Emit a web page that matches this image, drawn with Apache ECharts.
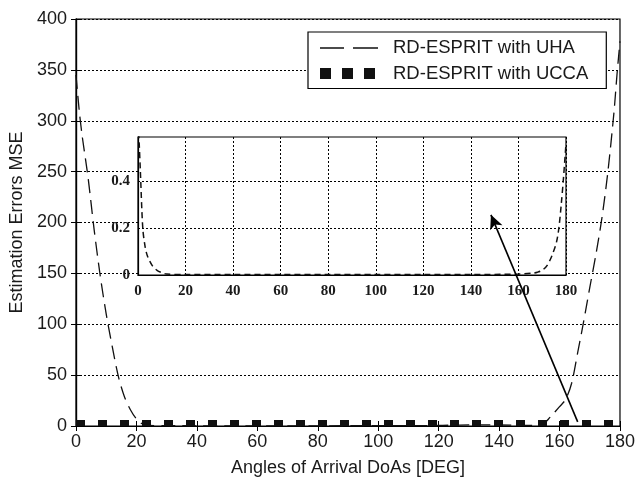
<!DOCTYPE html>
<html>
<head>
<meta charset="utf-8">
<script src="https://cdn.jsdelivr.net/npm/echarts@6/dist/echarts.min.js"></script>
<style>html,body{margin:0;padding:0;background:#fff}#c{width:638px;height:482px}</style>
</head>
<body>
<div id="c"></div>
<script>
// ---- data ----
const xTicks = [0, 20, 40, 60, 80, 100, 120, 140, 160, 180];
const yTicks = [0, 50, 100, 150, 200, 250, 300, 350, 400];
const insetYTicks = [0, 0.2, 0.4];

// Main: RD-ESPRIT with UHA (angle, MSE)
const uhaAngles = [0, 1, 2, 4, 6, 8, 10, 12, 14, 16, 18, 20, 22, 24, 30, 40, 60, 80, 100, 120, 130, 140, 150, 154, 157, 160, 162, 164, 166, 168, 170, 172, 174, 176, 178, 179, 180];
const uhaMSE    = [345, 312, 286, 244, 193, 148, 110, 78, 49, 29, 16, 7, 2, 0.5, 0.3, 0.2, 0.2, 0.2, 0.3, 0.5, 1.2, 1.0, 0.5, 1.0, 9, 19, 26, 42, 72, 103, 136, 168, 204, 250, 308, 345, 378];

// Main: RD-ESPRIT with UCCA (as drawn on the main axes)
const uccaAngles = [0, 20, 40, 60, 80, 100, 120, 140, 160, 180];
const uccaMSE    = [3, 3, 3, 3, 3, 3, 3, 3, 3, 3];

// Inset: RD-ESPRIT with UCCA zoomed
const insetAngles = [0, 0.5, 1, 2, 3, 4, 6, 8, 10, 12, 20, 40, 60, 80, 100, 120, 140, 160, 166, 168, 170, 172, 174, 176, 177, 178, 179, 180];
const insetMSE    = [0.65, 0.56, 0.44, 0.2, 0.12, 0.08, 0.04, 0.02, 0.01, 0.004, 0.002, 0.002, 0.002, 0.002, 0.002, 0.002, 0.002, 0.004, 0.008, 0.012, 0.02, 0.04, 0.08, 0.14, 0.2, 0.3, 0.42, 0.56];
const insetYMax = 0.587;

// Arrow annotation (data coordinates of main axes)
const arrowFrom = [166, 4];
const arrowTo = [137.3, 207.5];

const seriesNames = ['RD-ESPRIT with UHA', 'RD-ESPRIT with UCCA'];
const xTitle = 'Angles of Arrival DoAs [DEG]';
const yTitle = 'Estimation Errors MSE';

const zip = (a, b) => a.map((v, i) => [v, b[i]]);
const txt = '#1a1a1a';
const FONT = '"Liberation Sans", Arial, sans-serif';
const SERIF = '"Liberation Serif", "Times New Roman", serif';

// legend icon shapes (58 x 12 box; tiny corner anchors fix the bounding box)
const anchors = 'M0,0L0.01,0L0,0.01Z M58,12L57.99,12L58,11.99Z ';
const dashIcon = 'path://' + anchors + 'M0,5.2H24V6.8H0Z M33,5.2H58V6.8H33Z';
const squareIcon = 'path://' + anchors + 'M0,0.5H11V11.5H0Z M22,0.5H33V11.5H22Z M44,0.5H55V11.5H44Z';

const chart = echarts.init(document.getElementById('c'), null, {renderer: 'canvas'});
chart.setOption({
  animation: false,
  backgroundColor: '#fff',
  textStyle: {fontFamily: FONT},
  grid: [
    {left: 76, top: 19, width: 544, height: 408, show: true, borderColor: '#000', borderWidth: 1.2, backgroundColor: 'transparent', z: 0},
    {left: 138, top: 137, width: 428, height: 138, show: true, borderColor: '#000', borderWidth: 1.2, backgroundColor: '#fff', z: 10}
  ],
  legend: {
    left: 308, top: 32,
    orient: 'vertical',
    data: [{name: seriesNames[0], icon: dashIcon}, {name: seriesNames[1], icon: squareIcon}],
    symbolKeepAspect: false,
    borderColor: '#000', borderWidth: 1.2,
    backgroundColor: '#fff',
    padding: [6, 18, 5, 12],
    itemWidth: 58, itemHeight: 12, itemGap: 5.5,
    itemStyle: {color: '#111', borderWidth: 0},
    textStyle: {fontSize: 18.5, color: txt, fontFamily: FONT, lineHeight: 20, padding: [0, 0, 0, 10]},
    z: 20
  },
  xAxis: [
    {type: 'value', gridIndex: 0, min: 0, max: 180, interval: 20, position: 'bottom',
     name: xTitle, nameLocation: 'middle', nameGap: 33,
     nameTextStyle: {fontSize: 18, color: txt, fontFamily: FONT},
     axisLine: {show: true, lineStyle: {color: '#000', width: 1.2}},
     axisTick: {show: true, inside: true, length: 5, lineStyle: {color: '#000'}},
     axisLabel: {fontSize: 18, color: txt, margin: 7, fontFamily: FONT},
     splitLine: {show: false}},
    {type: 'value', gridIndex: 0, min: 0, max: 180, interval: 20, position: 'top',
     axisLine: {show: true, lineStyle: {color: '#000', width: 1.2}},
     axisTick: {show: true, inside: true, length: 5, lineStyle: {color: '#000'}},
     axisLabel: {show: false}, splitLine: {show: false}},
    {type: 'value', gridIndex: 1, min: 0, max: 180, interval: 20, position: 'bottom', z: 11,
     axisLine: {show: true, lineStyle: {color: '#000', width: 1.2}},
     axisTick: {show: false},
     axisLabel: {fontSize: 15, fontWeight: 'bold', color: txt, margin: 9, fontFamily: SERIF},
     splitLine: {show: true, lineStyle: {color: '#000', type: [2, 2], width: 1}}}
  ],
  yAxis: [
    {type: 'value', gridIndex: 0, min: 0, max: 400, interval: 50, position: 'left',
     name: yTitle, nameLocation: 'middle', nameGap: 49, nameRotate: 90,
     nameTextStyle: {fontSize: 18, color: txt, fontFamily: FONT},
     axisLine: {show: true, lineStyle: {color: '#000', width: 1.2}},
     axisTick: {show: true, inside: true, length: 5, lineStyle: {color: '#000'}},
     axisLabel: {fontSize: 18, color: txt, margin: 9, fontFamily: FONT},
     splitLine: {show: true, lineStyle: {color: '#000', type: [2, 2], width: 1}}},
    {type: 'value', gridIndex: 0, min: 0, max: 400, interval: 50, position: 'right',
     axisLine: {show: true, lineStyle: {color: '#000', width: 1.2}},
     axisTick: {show: true, inside: true, length: 5, lineStyle: {color: '#000'}},
     axisLabel: {show: false}, splitLine: {show: false}},
    {type: 'value', gridIndex: 1, min: 0, max: insetYMax, interval: 0.2, position: 'left', z: 11,
     axisLine: {show: true, lineStyle: {color: '#000', width: 1.2}},
     axisTick: {show: false},
     axisLabel: {fontSize: 15, fontWeight: 'bold', color: txt, margin: 8, fontFamily: SERIF, showMaxLabel: false,
       formatter: v => insetYTicks.some(t => Math.abs(t - v) < 1e-9) ? String(v) : ''},
     splitLine: {show: true, showMaxLine: false, lineStyle: {color: '#000', type: [2, 2], width: 1}}}
  ],
  series: [
    {name: seriesNames[0], type: 'line', xAxisIndex: 0, yAxisIndex: 0, data: zip(uhaAngles, uhaMSE),
     showSymbol: false, symbol: 'none', smooth: 0.3, z: 3,
     lineStyle: {color: '#111', width: 1.3, type: [14, 7]}, itemStyle: {color: '#111'}},
    {name: seriesNames[1], type: 'line', xAxisIndex: 0, yAxisIndex: 0, data: zip(uccaAngles, uccaMSE),
     showSymbol: false, symbol: 'none', z: 4,
     lineStyle: {color: '#111', width: 6, type: [9, 13], cap: 'butt'}, itemStyle: {color: '#111'}},
    {name: 'inset', type: 'line', xAxisIndex: 2, yAxisIndex: 2, data: zip(insetAngles, insetMSE),
     showSymbol: false, symbol: 'none', smooth: 0.3, z: 12, clip: true,
     lineStyle: {color: '#111', width: 1.5, type: [6, 4]}},
    {name: 'arrow', type: 'line', xAxisIndex: 0, yAxisIndex: 0, data: [], z: 15,
     markLine: {silent: true, symbol: ['none', 'arrow'], symbolSize: [10, 14], label: {show: false}, z: 15,
       lineStyle: {color: '#000', width: 1.6, type: 'solid'},
       data: [[{coord: arrowFrom}, {coord: arrowTo}]]}}
  ]
});
</script>
</body>
</html>
